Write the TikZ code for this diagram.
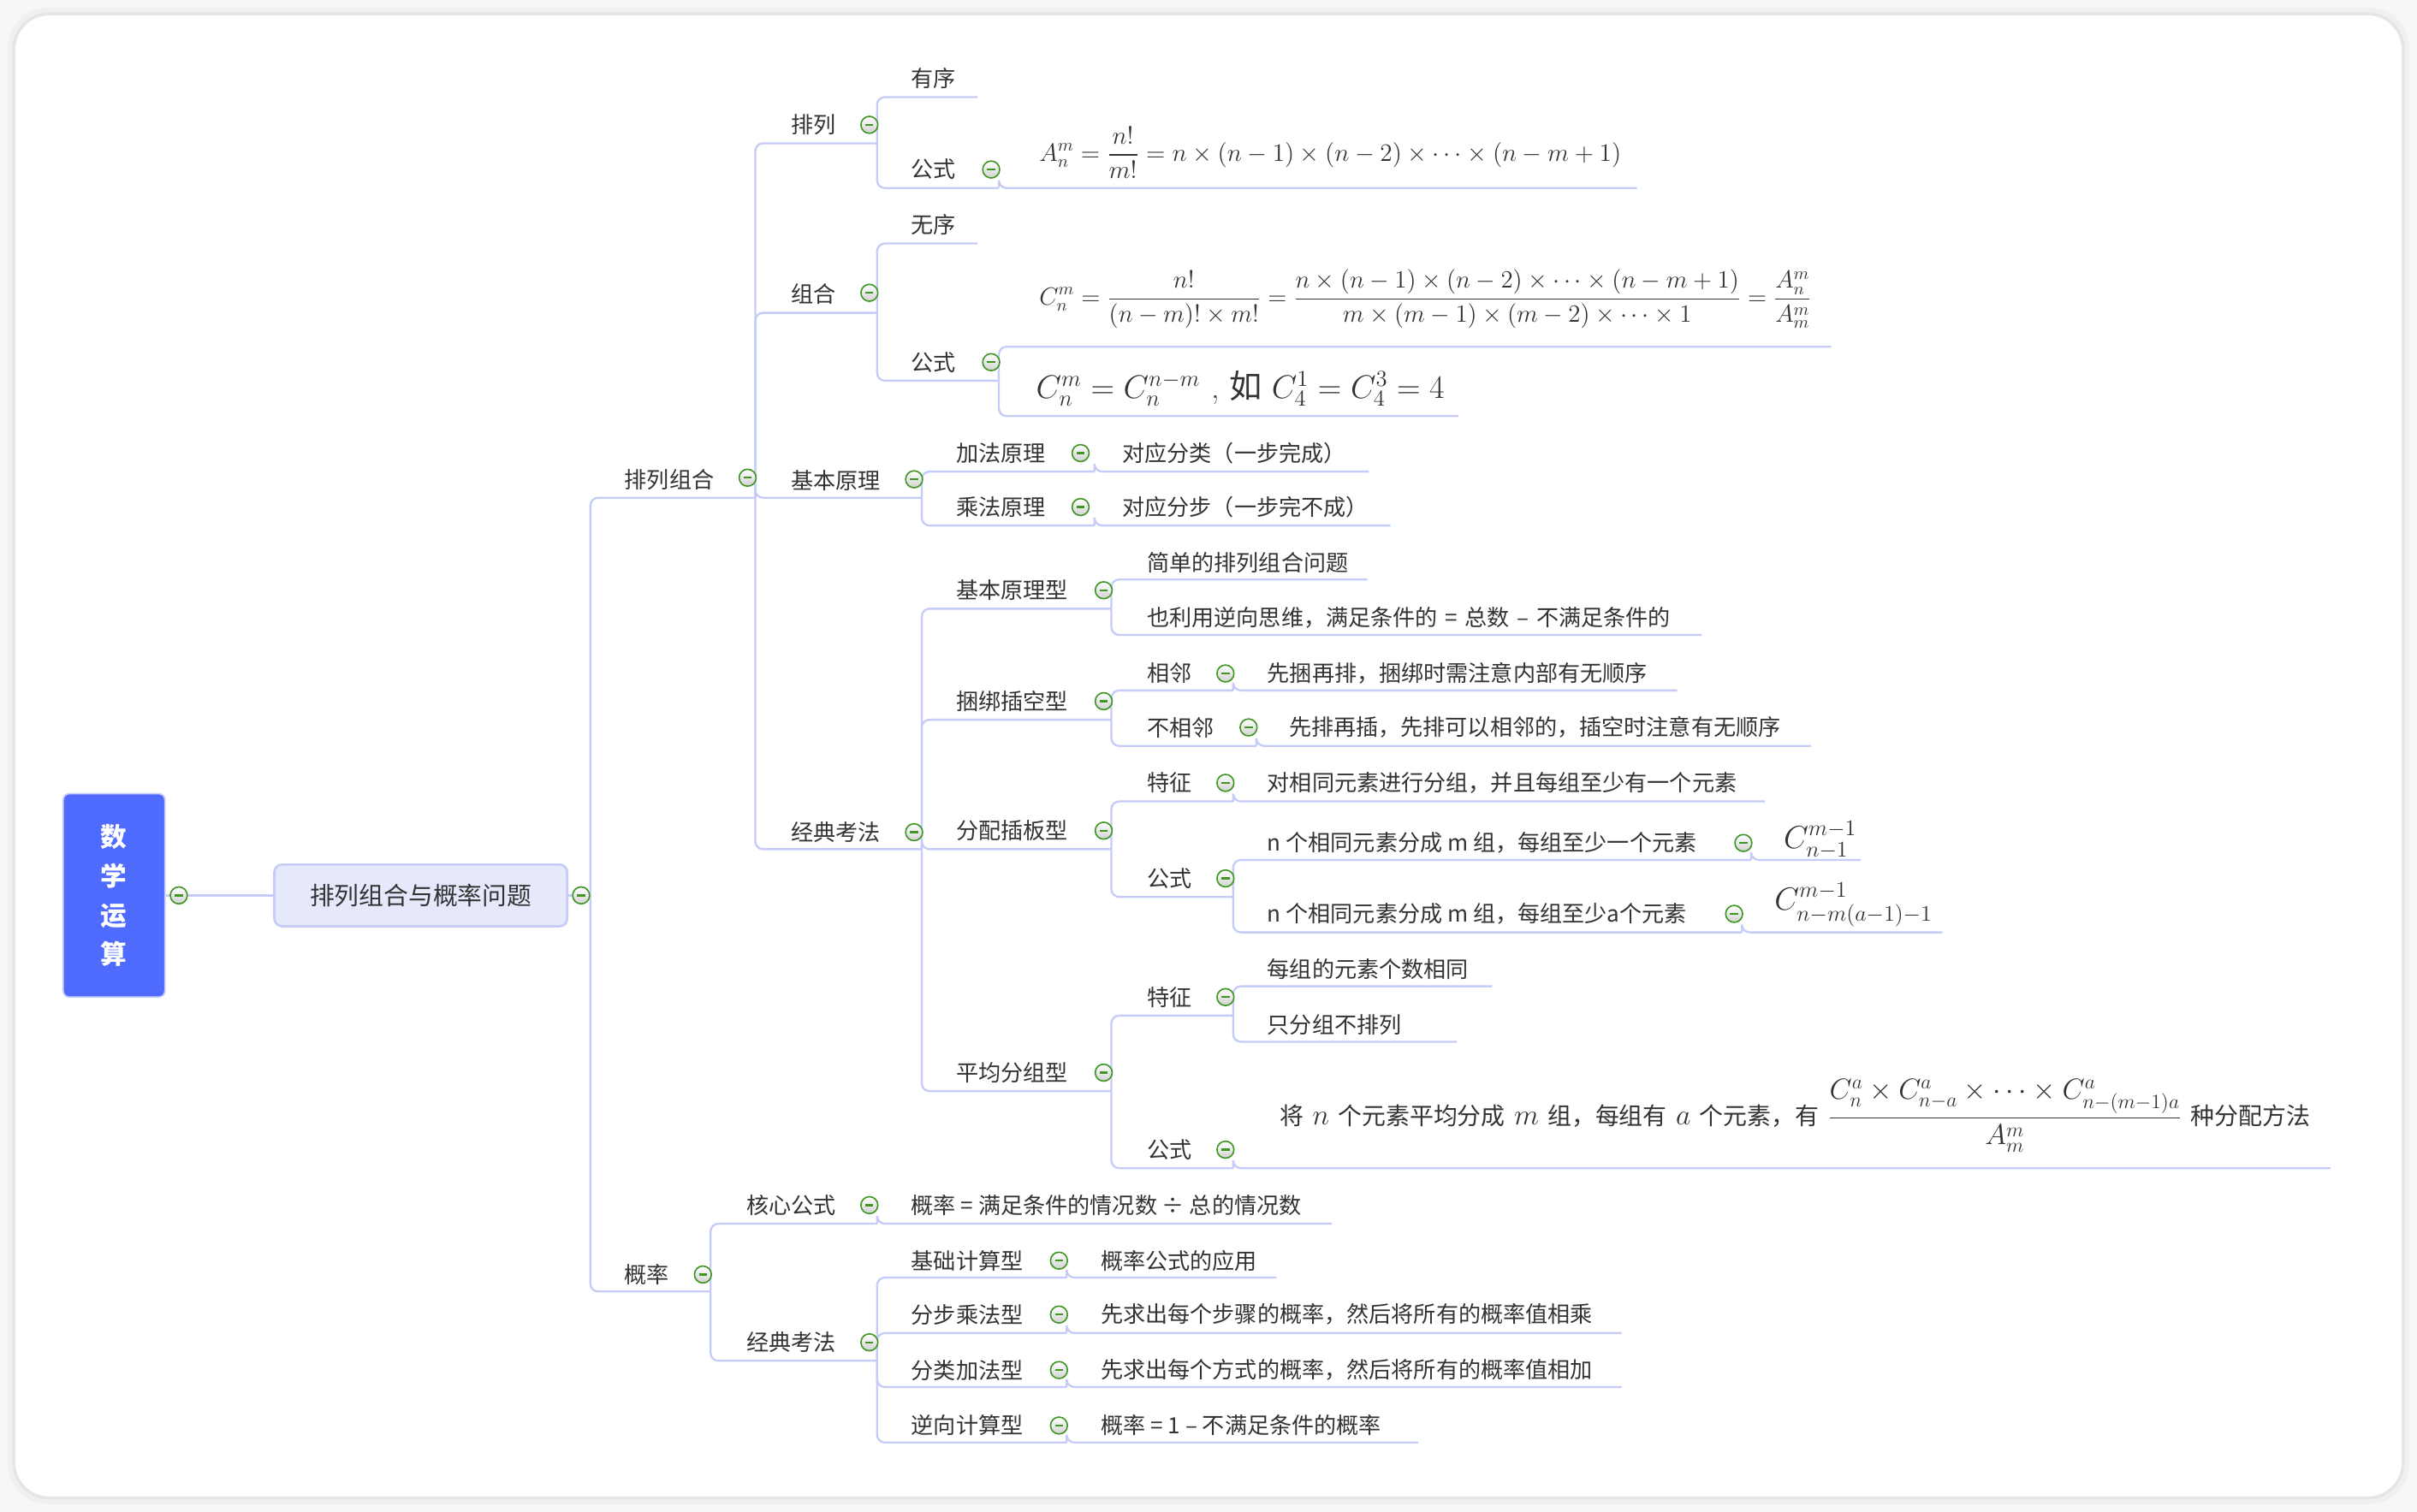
\RequirePackage{fix-cm}
\documentclass[tikz,border=0pt]{standalone}
\usepackage{amsmath,amssymb}
\usepackage{fontspec}
\newfontfamily\cjk{Noto Sans CJK SC}
\usepackage{tikz}
\usetikzlibrary{positioning}

\definecolor{linec}{HTML}{C6CCF8}
\definecolor{rootc}{HTML}{4E6BFD}
\definecolor{mainc}{HTML}{E6E9FC}
\definecolor{textc}{HTML}{333333}
\definecolor{btnc}{HTML}{3F9623}

\tikzset{
  link/.style={linec, line width=1.3pt, rounded corners=5pt},
  lbl/.style={anchor=west, inner sep=0pt, text=textc, font=\cjk\fontsize{14.5}{17}\selectfont},
  fml/.style={anchor=west, inner sep=0pt, text=textc, font=\fontsize{16.3}{19}\selectfont},
  rootbox/.style={fill=rootc, draw=linec, line width=1pt, rounded corners=4pt, minimum width=66pt, minimum height=132pt, text=white, align=center, font=\cjk\bfseries\fontsize{17}{25.5}\selectfont},
  mainbox/.style={fill=mainc, draw=linec, line width=1.5pt, rounded corners=5pt, minimum width=190pt, minimum height=40pt, text=textc, font=\cjk\fontsize{16}{19}\selectfont},
  btn/.style={circle, draw=btnc, line width=0.9pt, minimum size=11pt, inner sep=0pt, top color=white, bottom color=black!18,
    path picture={\draw[btnc, line width=1.3pt] ([xshift=-2.6pt]path picture bounding box.center) -- ([xshift=2.6pt]path picture bounding box.center);}},
}
\newcommand{\zh}[1]{{\cjk\fontsize{15.5}{18}\selectfont #1}}

\begin{document}
\begin{tikzpicture}[x=1pt, y=-1pt]
\useasboundingbox (0,0) rectangle (1568,981);
% karta
\fill[black!3] (0,0) rectangle (1568,981);
\fill[black!6, rounded corners=26pt] (5,5) rectangle (1563,976);
\fill[black!10, rounded corners=24pt] (8,8) rectangle (1560,973);
\fill[white, rounded corners=22pt] (10,10) rectangle (1558,971);

\node[rootbox] (root) at (74,581) {数\\学\\运\\算};
\node[mainbox] (main) at (273,581) {排列组合与概率问题};

% tekstovi
\node[lbl] (pz) at (405,311) {排列组合};
\node[lbl] (gl) at (405,827) {概率};
\node[lbl] (pl) at (513,81) {排列};
\node[lbl] (zh) at (513,191) {组合};
\node[lbl] (jb) at (513,312) {基本原理};
\node[lbl] (jd) at (513,540) {经典考法};
\node[lbl] (yx) at (591,51) {有序};
\node[lbl] (gsA) at (591,110) {公式};
\node[fml] (fA) at (674,99) {$\displaystyle A_n^m=\frac{n!}{m!}=n\times(n-1)\times(n-2)\times\cdots\times(n-m+1)$};
\node[lbl] (wx) at (591,146) {无序};
\node[lbl] (gsC) at (591,235) {公式};
\node[fml, font=\fontsize{16.1}{19}\selectfont] (fC1) at (674,194) {$\displaystyle C_n^m=\frac{n!}{(n-m)!\times m!}=\frac{n\times(n-1)\times(n-2)\times\cdots\times(n-m+1)}{m\times(m-1)\times(m-2)\times\cdots\times1}=\frac{A_n^m}{A_m^m}$};
\node[fml, font=\fontsize{21.2}{24}\selectfont] (fC2) at (672,252) {$C_n^m=C_n^{n-m}$\,\,, {\cjk 如} $C_4^1=C_4^3=4$};
\node[lbl] (jf) at (620,294) {加法原理};
\node[lbl] (jfT) at (728,294) {对应分类（一步完成）};
\node[lbl] (cf) at (620,329) {乘法原理};
\node[lbl] (cfT) at (728,329) {对应分步（一步完不成）};
\node[lbl] (jbx) at (620,383) {基本原理型};
\node[lbl] (jbx1) at (744,365) {简单的排列组合问题};
\node[lbl] (jbx2) at (744,401) {也利用逆向思维，满足条件的\,\,=\,\,总数\,\,–\,\,不满足条件的};
\node[lbl] (kb) at (620,455) {捆绑插空型};
\node[lbl] (xl) at (744,437) {相邻};
\node[lbl] (xlT) at (822,437) {先捆再排，捆绑时需注意内部有无顺序};
\node[lbl] (bxl) at (744,472) {不相邻};
\node[lbl] (bxlT) at (836,472) {先排再插，先排可以相邻的，插空时注意有无顺序};
\node[lbl] (fp) at (620,539) {分配插板型};
\node[lbl] (fptz) at (744,508) {特征};
\node[lbl] (fptzT) at (822,508) {对相同元素进行分组，并且每组至少有一个元素};
\node[lbl] (fpgs) at (744,570) {公式};
\node[lbl] (fpn1) at (822,547) {n 个相同元素分成 m 组，每组至少一个元素};
\node[fml, font=\fontsize{20.7}{24}\selectfont] (fpC1) at (1157,545) {$C_{n-1}^{m-1}$};
\node[lbl] (fpn2) at (822,593) {n 个相同元素分成 m 组，每组至少a个元素};
\node[fml, font=\fontsize{20.7}{24}\selectfont] (fpC2) at (1151,587) {$C_{n-m(a-1)-1}^{m-1}$};
\node[lbl] (pj) at (620,696) {平均分组型};
\node[lbl] (pjtz) at (744,647) {特征};
\node[lbl] (pjtz1) at (822,629) {每组的元素个数相同};
\node[lbl] (pjtz2) at (822,665) {只分组不排列};
\node[lbl] (pjgs) at (744,746) {公式};
\node[fml, font=\fontsize{18.8}{22}\selectfont] (pjf) at (830,724) {\zh{将} $n$ \zh{个元素平均分成} $m$ \zh{组，每组有} $a$ \zh{个元素，有} $\displaystyle\frac{C_n^a\times C_{n-a}^a\times\cdots\times C_{n-(m-1)a}^a}{A_m^m}$ \zh{种分配方法}};
\node[lbl] (hx) at (484,782) {核心公式};
\node[lbl] (hxT) at (591,782) {概率 = 满足条件的情况数 ÷ 总的情况数};
\node[lbl] (jd2) at (484,871) {经典考法};
\node[lbl] (jc) at (591,818) {基础计算型};
\node[lbl] (jcT) at (714,818) {概率公式的应用};
\node[lbl] (fb) at (591,853) {分步乘法型};
\node[lbl] (fbT) at (714,853) {先求出每个步骤的概率，然后将所有的概率值相乘};
\node[lbl] (fl) at (591,889) {分类加法型};
\node[lbl] (flT) at (714,889) {先求出每个方式的概率，然后将所有的概率值相加};
\node[lbl] (nx) at (591,925) {逆向计算型};
\node[lbl] (nxT) at (714,925) {概率 = 1 – 不满足条件的概率};

% krajevi podcrta
\coordinate (j0) at (383,581);
\coordinate (pz-e) at (490,323);
\coordinate (gl-e) at (461,838);
\coordinate (pl-e) at (569,93);
\coordinate (zh-e) at (569,203);
\coordinate (jb-e) at (598,323);
\coordinate (jd-e) at (598,551);
\coordinate (yx-e) at (634,63);
\coordinate (gsA-e) at (648,122);
\coordinate (fA-e) at (1062,122);
\coordinate (wx-e) at (634,158);
\coordinate (gsC-e) at (648,247);
\coordinate (fC1-e) at (1188,225);
\coordinate (fC2-e) at (946,270);
\coordinate (jf-e) at (710,306);
\coordinate (jfT-e) at (888,306);
\coordinate (cf-e) at (710,341);
\coordinate (cfT-e) at (902,341);
\coordinate (jbx-e) at (721,395);
\coordinate (jbx1-e) at (887,376);
\coordinate (jbx2-e) at (1104,412);
\coordinate (kb-e) at (721,467);
\coordinate (xl-e) at (800,448);
\coordinate (xlT-e) at (1088,448);
\coordinate (bxl-e) at (815,484);
\coordinate (bxlT-e) at (1175,484);
\coordinate (fp-e) at (721,551);
\coordinate (fptz-e) at (800,520);
\coordinate (fptzT-e) at (1145,520);
\coordinate (fpgs-e) at (800,582);
\coordinate (fpn1-e) at (1136,558);
\coordinate (fpC1-e) at (1207,558);
\coordinate (fpn2-e) at (1130,605);
\coordinate (fpC2-e) at (1260,605);
\coordinate (pj-e) at (721,708);
\coordinate (pjtz-e) at (800,659);
\coordinate (pjtz1-e) at (968,640);
\coordinate (pjtz2-e) at (945,676);
\coordinate (pjgs-e) at (800,758);
\coordinate (pjf-e) at (1512,758);
\coordinate (hx-e) at (569,794);
\coordinate (hxT-e) at (864,794);
\coordinate (jd2-e) at (569,883);
\coordinate (jc-e) at (692,829);
\coordinate (jcT-e) at (828,829);
\coordinate (fb-e) at (692,865);
\coordinate (fbT-e) at (1052,865);
\coordinate (fl-e) at (692,900);
\coordinate (flT-e) at (1052,900);
\coordinate (nx-e) at (692,936);
\coordinate (nxT-e) at (920,936);

\draw[link] (root) -- (main);
\draw[link] (main) -- (j0);
\draw[link] (j0) |- (pz-e);
\draw[link] (j0) |- (gl-e);
\draw[link] (pz-e) |- (pl-e);
\draw[link] (pz-e) |- (zh-e);
\draw[link] (pz-e) |- (jb-e);
\draw[link] (pz-e) |- (jd-e);
\draw[link] (pl-e) |- (yx-e);
\draw[link] (pl-e) |- (gsA-e);
\draw[link] (gsA-e) |- (fA-e);
\draw[link] (zh-e) |- (wx-e);
\draw[link] (zh-e) |- (gsC-e);
\draw[link] (gsC-e) |- (fC1-e);
\draw[link] (gsC-e) |- (fC2-e);
\draw[link] (jb-e) |- (jf-e);
\draw[link] (jb-e) |- (cf-e);
\draw[link] (jf-e) |- (jfT-e);
\draw[link] (cf-e) |- (cfT-e);
\draw[link] (jd-e) |- (jbx-e);
\draw[link] (jd-e) |- (kb-e);
\draw[link] (jd-e) |- (fp-e);
\draw[link] (jd-e) |- (pj-e);
\draw[link] (jbx-e) |- (jbx1-e);
\draw[link] (jbx-e) |- (jbx2-e);
\draw[link] (kb-e) |- (xl-e);
\draw[link] (kb-e) |- (bxl-e);
\draw[link] (xl-e) |- (xlT-e);
\draw[link] (bxl-e) |- (bxlT-e);
\draw[link] (fp-e) |- (fptz-e);
\draw[link] (fp-e) |- (fpgs-e);
\draw[link] (fptz-e) |- (fptzT-e);
\draw[link] (fpgs-e) |- (fpn1-e);
\draw[link] (fpgs-e) |- (fpn2-e);
\draw[link] (fpn1-e) |- (fpC1-e);
\draw[link] (fpn2-e) |- (fpC2-e);
\draw[link] (pj-e) |- (pjtz-e);
\draw[link] (pj-e) |- (pjgs-e);
\draw[link] (pjtz-e) |- (pjtz1-e);
\draw[link] (pjtz-e) |- (pjtz2-e);
\draw[link] (pjgs-e) |- (pjf-e);
\draw[link] (gl-e) |- (hx-e);
\draw[link] (gl-e) |- (jd2-e);
\draw[link] (hx-e) |- (hxT-e);
\draw[link] (jd2-e) |- (jc-e);
\draw[link] (jd2-e) |- (fb-e);
\draw[link] (jd2-e) |- (fl-e);
\draw[link] (jd2-e) |- (nx-e);
\draw[link] (jc-e) |- (jcT-e);
\draw[link] (fb-e) |- (fbT-e);
\draw[link] (fl-e) |- (flT-e);
\draw[link] (nx-e) |- (nxT-e);

% gumbi
\node[btn] (root-b) at (116,581) {};
\node[btn] (main-b) at (377,581) {};
\node[btn] (pz-b) at (485,310) {};
\node[btn] (gl-b) at (456,827) {};
\node[btn] (pl-b) at (564,81) {};
\node[btn] (zh-b) at (564,190) {};
\node[btn] (jb-b) at (593,311) {};
\node[btn] (jd-b) at (593,540) {};
\node[btn] (gsA-b) at (643,110) {};
\node[btn] (gsC-b) at (643,235) {};
\node[btn] (jf-b) at (701,294) {};
\node[btn] (cf-b) at (701,329) {};
\node[btn] (jbx-b) at (716,383) {};
\node[btn] (kb-b) at (716,455) {};
\node[btn] (fp-b) at (716,539) {};
\node[btn] (pj-b) at (716,696) {};
\node[btn] (xl-b) at (795,437) {};
\node[btn] (bxl-b) at (810,472) {};
\node[btn] (fptz-b) at (795,508) {};
\node[btn] (fpgs-b) at (795,570) {};
\node[btn] (fpn1-b) at (1131,547) {};
\node[btn] (fpn2-b) at (1125,593) {};
\node[btn] (pjtz-b) at (795,647) {};
\node[btn] (pjgs-b) at (795,746) {};
\node[btn] (hx-b) at (564,782) {};
\node[btn] (jd2-b) at (564,871) {};
\node[btn] (jc-b) at (687,818) {};
\node[btn] (fb-b) at (687,853) {};
\node[btn] (fl-b) at (687,889) {};
\node[btn] (nx-b) at (687,925) {};
\end{tikzpicture}
\end{document}
